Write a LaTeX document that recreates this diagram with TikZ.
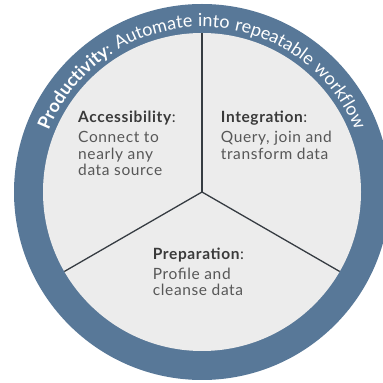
\documentclass[tikz,border=0pt]{standalone}
\usepackage{fontspec}
\setmainfont{Lato}
\newfontfamily\widelato[LetterSpace=4]{Lato}
\newfontfamily\ringlato[LetterSpace=4]{Lato}
\usetikzlibrary{decorations.text}
\definecolor{ringblue}{HTML}{587898}
\definecolor{innergrey}{HTML}{ECECEC}
\definecolor{divline}{HTML}{363C42}
\definecolor{headtext}{HTML}{3A3A3A}
\definecolor{bodytext}{HTML}{575757}
\begin{document}
\begin{tikzpicture}[x=1pt,y=1pt,
  head/.style={anchor=base west, inner sep=0pt, font=\widelato\fontsize{15.5}{17}\selectfont, text=headtext},
  body/.style={anchor=base west, inner sep=0pt, font=\widelato\fontsize{15.5}{17}\selectfont, text=bodytext},
  divider/.style={draw=divline, line width=1.3pt}]
\useasboundingbox (0,0) rectangle (383,383);
\coordinate (c) at (202,191);
\fill[ringblue] (c) circle[radius=188];
\fill[innergrey] (c) circle[radius=159];
\path (c) ++(90:159) coordinate (top);
\path (c) ++(210:159) coordinate (lowleft);
\path (c) ++(330:159) coordinate (lowright);
\draw[divider] (c) -- (top);
\draw[divider] (c) -- (lowleft);
\draw[divider] (c) -- (lowright);
% ring text
\path (c) ++(160:165) coordinate (arcstart);
\path[decorate, decoration={text along path, text align=center,
  text={|\ringlato\fontsize{18}{18}\selectfont\color{white}\bfseries|Productivity|\ringlato\fontsize{18}{18}\selectfont\color{white}\mdseries|: Automate into repeatable workflow}}]
  (arcstart) arc[start angle=160, end angle=20, radius=165];
% Accessibility
\node[head] (acch) at (78,260) {\textbf{Accessibility}:};
\node[body] (acc1) at (78,240) {Connect to};
\node[body] (acc2) at (78,223) {nearly any};
\node[body] (acc3) at (78,207) {data source};
% Integration
\node[head] (inth) at (220.7,260) {\textbf{Integration}:};
\node[body] (int1) at (220.7,240) {Query, join and};
\node[body] (int2) at (220.7,223.5) {transform data};
% Preparation
\node[head] (preh) at (152.7,123) {\textbf{Preparation}:};
\node[body] (pre1) at (152.7,103) {Profile and};
\node[body] (pre2) at (152.7,87) {cleanse data};
\end{tikzpicture}
\end{document}
